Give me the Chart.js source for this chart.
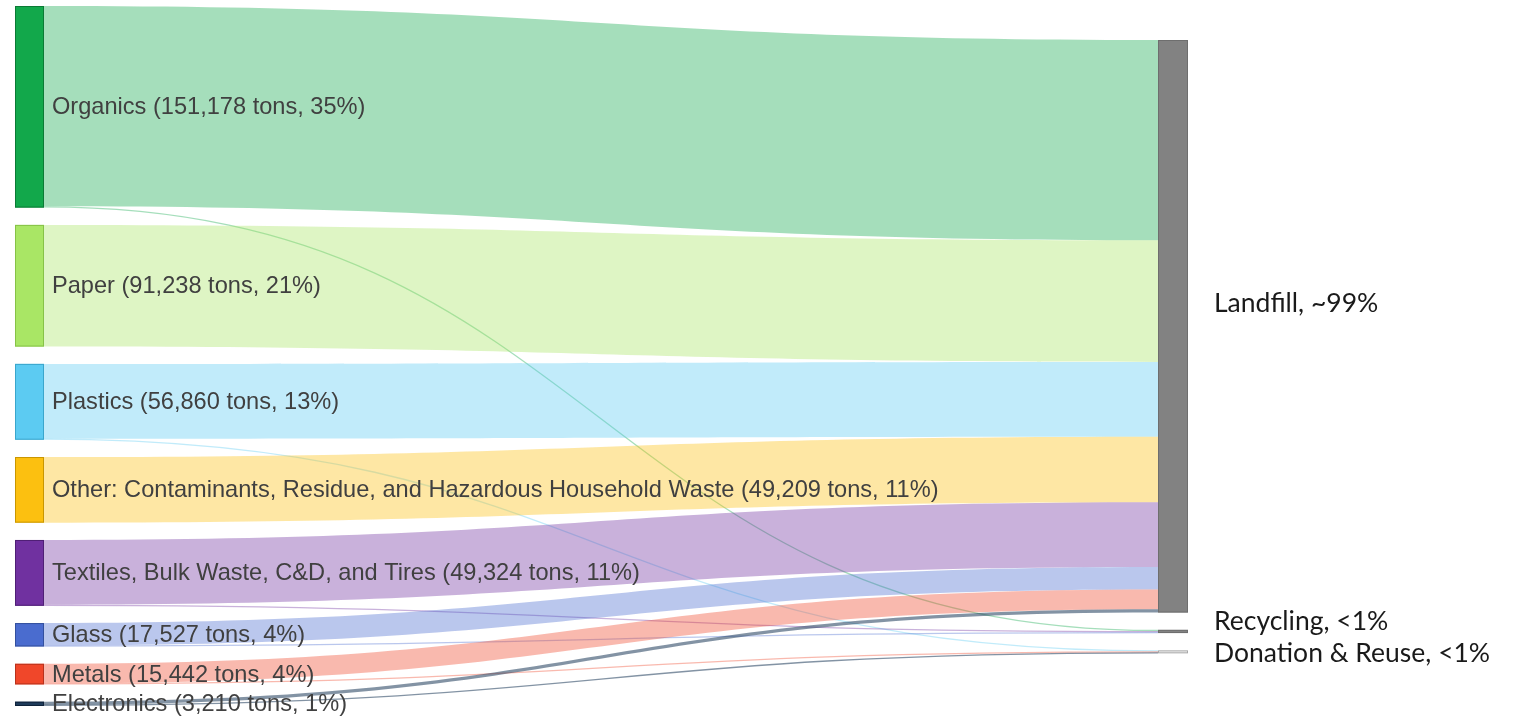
<!DOCTYPE html>
<html>
<head>
<meta charset="utf-8">
<script src="https://cdn.jsdelivr.net/npm/chart.js@4.4.1/dist/chart.umd.min.js"></script>
<style>
  html, body { margin: 0; padding: 0; background: #fff; }
  #wrap { width: 1527px; height: 718px; position: relative; }
</style>
</head>
<body>
<div id="wrap"><canvas id="sankey"></canvas></div>
<script>
// waste composition -> destination (tons)
const categories = [
  'Organics', 'Paper', 'Plastics',
  'Other: Contaminants, Residue, and Hazardous Household Waste',
  'Textiles, Bulk Waste, C&D, and Tires',
  'Glass', 'Metals', 'Electronics'
];
const sharePct = [35, 21, 13, 11, 11, 4, 4, 1];
const destLabels = ['Landfill, ~99%', 'Recycling, <1%', 'Donation & Reuse, <1%'];

const toLandfill  = [150178, 91238, 56060, 49209, 48624, 16827, 14842, 2410];
const toRecycling = [1000, 0, 0, 0, 700, 700, 0, 0];
const toDonation  = [0, 0, 800, 0, 0, 0, 600, 800];

const srcColors = ['#12a84b', '#a9e665', '#5ccbf2', '#fcc010', '#7031a0', '#4a6ccf', '#f0472a', '#1e3b5a'];
const srcBorder = ['#0b7a35', '#86c247', '#3aa6cc', '#c99600', '#4f1f75', '#33509e', '#b8321c', '#10233a'];

(function () {
  'use strict';

  var flows = [toLandfill, toRecycling, toDonation];
  var GAP = 13000;          // node padding, in tons
  var LEFT_X = [15, 44];
  var RIGHT_X = [1158, 1188];
  var RIGHT_START = 25500;  // right column offset, in tons
  var destLabelShift = [-23, -10, 2];

  function hexA(hex, a) {
    var n = parseInt(hex.slice(1), 16);
    return 'rgba(' + (n >> 16) + ',' + ((n >> 8) & 255) + ',' + (n & 255) + ',' + a + ')';
  }

  var sankey = {
    id: 'sankey',
    afterDatasetsDraw: function (chart) {
      var ctx = chart.ctx, xs = chart.scales.x, ys = chart.scales.y;
      var srcTot = categories.map(function (c, i) {
        return toLandfill[i] + toRecycling[i] + toDonation[i];
      });
      var dstTot = flows.map(function (f) { return f.reduce(function (a, b) { return a + b; }, 0); });

      var srcTop = [], acc = 0;
      srcTot.forEach(function (v) { srcTop.push(acc); acc += v + GAP; });
      var dstTop = []; acc = RIGHT_START;
      dstTot.forEach(function (v) { dstTop.push(acc); acc += v + GAP; });

      var x0 = xs.getPixelForValue(LEFT_X[1]), x1 = xs.getPixelForValue(RIGHT_X[0]);
      var xm = (x0 + x1) / 2;
      var sOff = srcTot.map(function () { return 0; });
      var dOff = dstTot.map(function () { return 0; });

      ctx.save();
      // links
      categories.forEach(function (c, i) {
        flows.forEach(function (f, j) {
          var v = f[i];
          if (!v) { return; }
          var sa = ys.getPixelForValue(srcTop[i] + sOff[i]);
          var sb = ys.getPixelForValue(srcTop[i] + sOff[i] + v);
          var da = ys.getPixelForValue(dstTop[j] + dOff[j]);
          var db = ys.getPixelForValue(dstTop[j] + dOff[j] + v);
          sOff[i] += v; dOff[j] += v;
          var col = hexA(srcColors[i], i === 7 ? 0.55 : 0.38);
          if (sb - sa < 2) {
            ctx.beginPath();
            ctx.moveTo(x0, (sa + sb) / 2);
            ctx.bezierCurveTo(xm, (sa + sb) / 2, xm, (da + db) / 2, x1, (da + db) / 2);
            ctx.lineWidth = Math.max(1.3, sb - sa);
            ctx.strokeStyle = col;
            ctx.stroke();
            return;
          }
          ctx.beginPath();
          ctx.moveTo(x0, sa);
          ctx.bezierCurveTo(xm, sa, xm, da, x1, da);
          ctx.lineTo(x1, db);
          ctx.bezierCurveTo(xm, db, xm, sb, x0, sb);
          ctx.closePath();
          ctx.fillStyle = col;
          ctx.fill();
        });
      });

      // source nodes
      var lx = xs.getPixelForValue(LEFT_X[0]);
      var lw = x0 - lx;
      categories.forEach(function (c, i) {
        var t = ys.getPixelForValue(srcTop[i]), b = ys.getPixelForValue(srcTop[i] + srcTot[i]);
        ctx.fillStyle = srcColors[i];
        ctx.fillRect(lx, t, lw, b - t);
        ctx.strokeStyle = srcBorder[i];
        ctx.lineWidth = 1;
        ctx.strokeRect(lx + 0.5, t + 0.5, lw - 1, Math.max(b - t - 1, 0.5));
      });

      // destination nodes
      var rw = xs.getPixelForValue(RIGHT_X[1]) - x1;
      dstTot.forEach(function (v, j) {
        var t = ys.getPixelForValue(dstTop[j]), b = ys.getPixelForValue(dstTop[j] + v);
        ctx.fillStyle = j === 2 ? '#f4f4f4' : '#828282';
        ctx.fillRect(x1, t, rw, b - t);
        ctx.strokeStyle = j === 2 ? '#a8a8a8' : '#6e6e6e';
        ctx.strokeRect(x1 + 0.5, t + 0.5, rw - 1, Math.max(b - t - 1, 0.5));
      });

      // labels
      ctx.textBaseline = 'middle';
      ctx.fillStyle = '#404040';
      ctx.font = '23.6px "Liberation Sans", Arial, sans-serif';
      categories.forEach(function (c, i) {
        var mid = ys.getPixelForValue(srcTop[i] + srcTot[i] / 2);
        var txt = c + ' (' + srcTot[i].toLocaleString('en-US') + ' tons, ' + sharePct[i] + '%)';
        ctx.fillText(txt, x0 + 8, mid + 1);
      });
      ctx.fillStyle = '#1a1a1a';
      ctx.font = '26.5px Lato, "Open Sans", sans-serif';
      dstTot.forEach(function (v, j) {
        var mid = ys.getPixelForValue(dstTop[j] + v / 2);
        ctx.fillText(destLabels[j], xs.getPixelForValue(RIGHT_X[1]) + 26, mid + destLabelShift[j]);
      });
      ctx.restore();
    }
  };

  new Chart(document.getElementById('sankey'), {
    type: 'scatter',
    data: { datasets: [{ data: [], pointRadius: 0 }] },
    options: {
      responsive: true,
      maintainAspectRatio: false,
      animation: false,
      layout: { padding: 0 },
      plugins: { legend: { display: false }, tooltip: { enabled: false } },
      scales: {
        x: { type: 'linear', min: 0, max: 1527, display: false },
        y: { type: 'linear', min: -4500, max: -4500 + 718 * 750, reverse: true, display: false }
      }
    },
    plugins: [sankey]
  });
})();
</script>
</body>
</html>
